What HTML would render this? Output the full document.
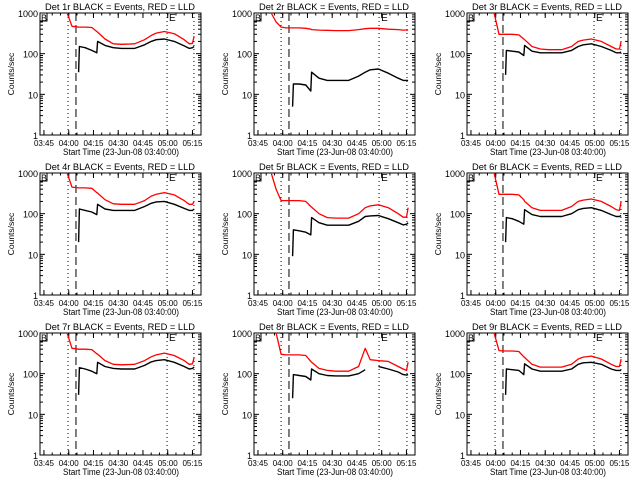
<!DOCTYPE html>
<html><head><meta charset="utf-8"><style>
html,body{margin:0;padding:0;background:#fff;}
svg{display:block;font-family:"Liberation Sans",sans-serif;}
</style></head><body>
<svg id="chart" width="640" height="480" viewBox="0 0 640 480" xmlns="http://www.w3.org/2000/svg"></svg>
<script>
// Shared time grid, minutes since 03:40
const times = [10,13,16,19,22,24,26,26.5,30,34,37,37.5,42,47,52,60,66,70,73,78,84,90,93,95,96];
const detLabels = ["1r","2r","3r","4r","5r","6r","7r","8r","9r"];
const xTickLabels = ["03:45","04:00","04:15","04:30","04:45","05:00","05:15"];
const xTickTimes = [5,20,35,50,65,80,95];
const yTickLabels = ["1","10","100","1000"];
const yTickValues = [1,10,100,1000];
const n = null;
const red1 = [n,n,n,1000,470,460,450,450,450,440,350,340,230,175,170,175,220,280,320,350,310,220,175,180,270];
const blk1 = [n,n,n,n,n,n,35,150,140,120,105,200,160,140,135,135,165,200,220,230,200,155,135,140,150];
const red2 = [n,1000,600,450,430,430,430,430,430,420,400,390,380,375,370,370,390,410,420,420,400,390,380,380,380];
const blk2 = [n,n,n,n,n,n,5,18,18,17,12,35,25,22,22,22,28,35,40,42,33,25,22,22,22];
const red3 = [n,n,n,1000,300,300,300,300,300,290,230,220,150,130,125,125,150,200,215,230,200,150,130,130,200];
const blk3 = [n,n,n,n,n,n,30,120,115,110,90,160,115,105,105,105,120,150,165,175,150,120,105,105,110];
const red4 = [n,n,n,1000,450,440,430,430,430,420,330,320,220,175,170,170,210,270,300,330,290,210,170,170,200];
const blk4 = [n,n,n,n,n,n,20,130,120,110,95,170,130,120,120,120,150,180,195,200,170,135,120,120,130];
const red5 = [n,1000,400,210,210,210,210,210,210,200,150,145,100,80,78,78,100,140,155,165,140,100,82,82,140];
const blk5 = [n,n,n,n,n,n,9,40,38,35,30,80,60,52,52,52,65,85,88,90,75,60,53,55,60];
const red6 = [n,n,n,1000,300,300,300,300,300,290,220,200,140,120,120,120,150,200,215,230,200,150,125,120,200];
const blk6 = [n,n,n,n,n,n,20,80,75,65,55,125,95,85,85,85,100,125,135,140,120,95,85,85,90];
const red7 = [n,n,n,1000,420,410,400,400,400,390,310,300,210,170,165,170,210,260,290,320,280,210,170,175,250];
const blk7 = [n,n,n,n,n,n,30,140,130,115,100,190,150,135,130,130,160,195,210,220,190,150,130,135,145];
const red8 = [n,n,1000,300,290,290,290,290,290,280,200,190,135,120,115,115,150,420,220,210,200,150,130,120,190];
const blk8 = [n,n,n,n,n,n,25,95,90,85,70,130,100,90,88,88,100,125,n,150,130,110,95,92,95];
const red9 = [n,n,n,1000,370,365,360,360,360,350,260,250,170,145,145,145,170,230,255,270,230,170,150,150,230];
const blk9 = [n,n,n,n,n,n,30,130,125,120,95,175,130,115,115,115,130,170,185,190,170,130,120,120,120];
const redSeries = [red1,red2,red3,red4,red5,red6,red7,red8,red9];
const blkSeries = [blk1,blk2,blk3,blk4,blk5,blk6,blk7,blk8,blk9];
const lineDot1 = [19.6,19,19.6,19.6,19,19.6,19.6,19,19.6];
const lineDash = [24.4,23.8,24.4,24.4,23.8,24.4,24.4,23.8,24.4];
const lineE = [79.6,78.4,79.6,79.6,78.4,79.6,79.6,78.4,79.6];
const lineEnd = [95.9,95.3,95.9,95.9,95.3,95.9,95.9,95.3,95.9];

const NS = "http://www.w3.org/2000/svg";
const svg = document.getElementById("chart");
function mk(tag, attrs, parent){const e=document.createElementNS(NS,tag);for(const k in attrs)e.setAttribute(k,attrs[k]);parent.appendChild(e);return e;}

for (let p = 0; p < 9; p++) {
  const col = p % 3, row = Math.floor(p / 3);
  const ox = [0, 214, 427][col], oy = row * 160;
  const L = ox + 40, R = ox + 201, T = oy + 13, B = oy + 135;
  const xs = t => L + (t - 2.6) * 1.65;
  const ys = v => B - (Math.log10(v)) * (B - T) / 3;
  const g = mk("g", {}, svg);
  
  

  const title = mk("text", {x: ox + 45, y: oy + 10, "font-size": 9.5, textLength: 150, lengthAdjust: "spacingAndGlyphs"}, g);
  title.textContent = "Det " + detLabels[p] + " BLACK = Events, RED = LLD";
  
  

  const box = mk("rect", {x: L, y: T, width: R - L, height: B - T, fill: "none", stroke: "#000", "stroke-width": 1}, g);
  
  

  for (let d = 0; d < 4; d++) {
    const y = ys(yTickValues[d]);
    const tk = mk("line", {x1: L, x2: L + 5, y1: y, y2: y, stroke: "#000"}, g);
    
    
    mk("line", {x1: R, x2: R - 5, y1: y, y2: y, stroke: "#000"}, g);
    const lb = mk("text", {x: L - 2, y: y + 4, "font-size": 9, "text-anchor": "end"}, g);
    lb.textContent = yTickLabels[d];
    
    
    if (d < 3) for (let m = 2; m < 10; m++) {
      const ym = ys(yTickValues[d] * m);
      mk("line", {x1: L, x2: L + 3, y1: ym, y2: ym, stroke: "#000"}, g);
      mk("line", {x1: R, x2: R - 3, y1: ym, y2: ym, stroke: "#000"}, g);
    }
  }
  for (let i = 0; i < xTickTimes.length; i++) {
    const x = xs(xTickTimes[i]);
    mk("line", {x1: x, x2: x, y1: B, y2: B - 5, stroke: "#000"}, g);
    mk("line", {x1: x, x2: x, y1: T, y2: T + 5, stroke: "#000"}, g);
    const lb = mk("text", {x: x, y: B + 11, "font-size": 8, "text-anchor": "middle"}, g);
    lb.textContent = xTickLabels[i];
    
    
  }
  for (let t = 5; t < 100; t += 5) {
    const x = xs(t);
    mk("line", {x1: x, x2: x, y1: B, y2: B - 2.5, stroke: "#000"}, g);
    mk("line", {x1: x, x2: x, y1: T, y2: T + 2.5, stroke: "#000"}, g);
  }
  const xt = mk("text", {x: ox + 63, y: oy + 155, "font-size": 9, textLength: 116, lengthAdjust: "spacingAndGlyphs"}, g);
  xt.textContent = "Start Time (23-Jun-08 03:40:00)";
  
  
  const yt = mk("text", {x: 0, y: 0, "font-size": 8.5, "text-anchor": "middle", transform: `translate(${ox + 14},${oy + 74}) rotate(-90)`}, g);
  yt.textContent = "Counts/sec";
  
  

  const vl = (t, dash, nm) => {
    const e = mk("line", {x1: xs(t), x2: xs(t), y1: T, y2: B, stroke: "#000", "stroke-width": 1, "stroke-dasharray": dash}, g);
    
    
  };
  vl(lineDot1[p], "1,3", "start-dotted-line");
  vl(lineDash[p], "8,4", "dashed-line");
  vl(lineE[p], "1,3", "end-dotted-line");
  vl(lineEnd[p], "1,3", "final-dotted-line");

  const bb = mk("rect", {x: L, y: T, width: 7, height: 8, fill: "#fff", stroke: "#000"}, g);
  
  
  const bt = mk("text", {x: L + 1, y: T + 8, "font-size": 9}, g);
  bt.textContent = "B";
  
  
  const et = mk("text", {x: xs(lineE[p]) + 2, y: T + 8, "font-size": 10}, g);
  et.textContent = "E";
  
  

  const draw = (vals, color, w, nm) => {
    let segs = [], cur = [];
    for (let i = 0; i < times.length; i++) {
      if (vals[i] == null) { if (cur.length) segs.push(cur); cur = []; continue; }
      cur.push(xs(times[i]).toFixed(1) + "," + ys(vals[i]).toFixed(1));
    }
    if (cur.length) segs.push(cur);
    segs.forEach(s => {
      const pl = mk("polyline", {points: s.join(" "), fill: "none", stroke: color, "stroke-width": w, "stroke-linejoin": "round"}, g);
      
      
    });
  };
  draw(blkSeries[p], "#000", 1.4, "events-series");
  draw(redSeries[p], "#ff0000", 1.3, "lld-series");
}
</script>
</body></html>
